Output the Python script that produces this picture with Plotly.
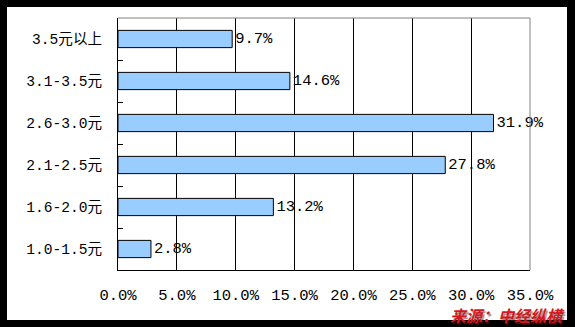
import plotly.graph_objects as go

# Price bands (bottom to top) and their share of respondents, %
categories = ["1.0-1.5元", "1.6-2.0元", "2.1-2.5元", "2.6-3.0元", "3.1-3.5元", "3.5元以上"]
shares = [2.8, 13.2, 27.8, 31.9, 14.6, 9.7]
x_ticks = [0, 5, 10, 15, 20, 25, 30, 35]
source_note = "来源：中经纵横"

W, H = 575, 327
L, R, T, B = 118, 45, 18, 57
plot_w, plot_h = W - L - R, H - T - B

def px_x(px):
    return (px - L) / plot_w

def px_y(py):
    return (H - B - py) / plot_h

MONO = "Liberation Mono, Noto Sans CJK SC, monospace"

fig = go.Figure(
    go.Bar(
        x=shares,
        y=categories,
        orientation="h",
        width=0.41,
        marker=dict(color="#99CCFF", line=dict(color="black", width=1)),
        texttemplate="%{x:.1f}%",
        textposition="outside",
        constraintext="none",
        cliponaxis=False,
        textfont=dict(family=MONO, size=15.5, color="black"),
        hoverinfo="skip",
    )
)

fig.update_layout(
    width=W,
    height=H,
    margin=dict(l=L, r=R, t=T, b=B),
    paper_bgcolor="black",
    plot_bgcolor="white",
    showlegend=False,
    shapes=[
        # white card inside the black frame
        dict(type="rect", xref="paper", yref="paper",
             x0=px_x(7), x1=px_x(567), y0=px_y(320), y1=px_y(7),
             fillcolor="white", line=dict(width=0), layer="below"),
        # grey top and right border of the plot area
        dict(type="line", xref="paper", yref="paper", x0=0, x1=1, y0=1, y1=1,
             line=dict(color="#808080", width=1), layer="above"),
        dict(type="line", xref="paper", yref="paper", x0=1, x1=1, y0=0, y1=1,
             line=dict(color="#808080", width=1), layer="above"),
    ],
    xaxis=dict(
        range=[0, 35],
        tickvals=x_ticks,
        ticktext=[f"{v:.1f}%" for v in x_ticks],
        showgrid=True,
        gridcolor="black",
        gridwidth=1,
        showline=True,
        linecolor="black",
        linewidth=1,
        ticks="",
        zeroline=False,
        ticklabelstandoff=10,
        tickfont=dict(family=MONO, size=15.5, color="black"),
        fixedrange=True,
    ),
    yaxis=dict(
        categoryorder="array",
        categoryarray=categories,
        showgrid=False,
        showline=True,
        linecolor="black",
        linewidth=1,
        ticks="inside",
        tickson="boundaries",
        ticklen=5,
        tickcolor="black",
        ticklabelstandoff=12,
        tickfont=dict(family=MONO, size=14.6, color="black"),
        fixedrange=True,
    ),
)

# source note in red with a soft drop shadow
fig.add_annotation(
    text=f"<b><i>{source_note}</i></b>",
    xref="paper", yref="paper",
    x=px_x(567), y=px_y(315),
    xanchor="right", yanchor="middle",
    showarrow=False,
    font=dict(family="Noto Sans CJK SC", size=16, color="#D2181C",
              shadow="1.5px 1.5px 1px rgba(90,40,40,0.55)"),
)

fig.write_html("out.html")
